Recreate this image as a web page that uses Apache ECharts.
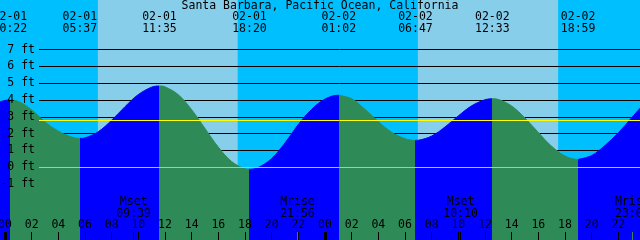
<!DOCTYPE html>
<html>
<head>
<meta charset="utf-8">
<script src="https://cdn.jsdelivr.net/npm/echarts@6/dist/echarts.min.js"></script>
<style>
html,body{margin:0;padding:0;background:#00bfff}
#chart{width:640px;height:240px}
</style>
</head>
<body>
<div id="chart"></div>
<script>
// tide height read hour by hour off the plot (hours after 02-01 00:00, feet)
var hourTimes = [-1,0,1,2,3,4,5,6,7,8,9,10,11,12,13,14,15,16,17,18,19,20,21,22,23,24,
    25,26,27,28,29,30,31,32,33,34,35,36,37,38,39,40,41,42,43,44,45,46,47,48];
var hourFeet = [3.75,3.98,3.92,3.42,2.70,2.15,1.80,1.75,2.12,2.80,3.61,4.33,4.77,4.79,4.32,3.43,2.31,1.20,0.34,-0.09,-0.01,0.52,1.45,2.55,3.45,4.06,
    4.29,4.08,3.45,2.72,2.08,1.70,1.61,1.86,2.40,3.06,3.66,4.02,4.04,3.65,2.93,2.07,1.25,0.67,0.47,0.70,1.30,2.05,2.95,3.85];

// highs and lows written along the top
var extremeDates = ['02-01','02-01','02-01','02-01','02-02','02-02','02-02','02-02'];
var extremeClock = ['00:22','05:37','11:35','18:20','01:02','06:47','12:33','18:59'];
var extremeFeet = [4.00,1.72,4.84,-0.12,4.29,1.60,4.08,0.47];

// daylight
var sunriseDates = ['02-01','02-02'];
var sunriseClock = ['06:58','06:58'];
var sunsetDates = ['02-01','02-02'];
var sunsetClock = ['17:27','17:29'];

// moon events along the bottom
var moonNames = ['Mset','Mrise','Mset','Mrise'];
var moonDates = ['02-01','02-01','02-02','02-02'];
var moonClock = ['09:39','21:56','10:10','23:03'];

// bottom hour ticks, midnights, reference level (yellow line)
var hourTicks = [0,2,4,6,8,10,12,14,16,18,20,22,24,26,28,30,32,34,36,38,40,42,44,46];
var midnightTicks = [0,24];
var refLevel = 2.78;

var NIGHT = '#00bfff', DAY = '#87ceeb', RISE = '#0000ff', FALL = '#2e8b57';
var FONT = 'DejaVu Sans Mono';
var X0 = -0.375, X1 = 47.625;   // visible time range
var Y0 = -4.33, Y1 = 9.96;      // visible height range

function toHours(date, clock) {
    var d = parseInt(date.split('-')[1], 10) - 1;
    var p = clock.split(':');
    return d * 24 + parseInt(p[0], 10) + parseInt(p[1], 10) / 60;
}
function pad(n) { return ('0' + n).slice(-2); }

var extremeHours = extremeDates.map(function (d, i) { return toHours(d, extremeClock[i]); });
var moonHours = moonDates.map(function (d, i) { return toHours(d, moonClock[i]); });

// curve data = hourly readings + the extremes, sorted by time
var curve = hourTimes.map(function (t, i) { return [t, hourFeet[i]]; });
extremeHours.forEach(function (t, i) { curve.push([t, extremeFeet[i]]); });
curve.sort(function (a, b) { return a[0] - b[0]; });

// rising = blue, falling = green
var pieces = [{lt: extremeHours[0], color: extremeFeet[0] > extremeFeet[1] ? RISE : FALL}];
for (var i = 0; i < extremeHours.length; i++) {
    var p = {gte: extremeHours[i]};
    if (i + 1 < extremeHours.length) {
        p.lt = extremeHours[i + 1];
        p.color = extremeFeet[i] > extremeFeet[i + 1] ? FALL : RISE;
    } else {
        p.color = extremeFeet[i] > extremeFeet[i - 1] ? FALL : RISE;
    }
    pieces.push(p);
}

var dayAreas = sunriseDates.map(function (d, i) {
    return [{xAxis: toHours(d, sunriseClock[i])}, {xAxis: toHours(sunsetDates[i], sunsetClock[i])}];
});

function full() {
    return {left: 0, right: 0, top: 0, bottom: 0, containLabel: false, outerBoundsMode: 'none'};
}
function levels() {
    return {left: 39, right: 0, top: 49.7, bottom: 55.9, containLabel: false, outerBoundsMode: 'none'};
}
var txt = {fontFamily: FONT, fontSize: 11.5, color: '#000'};

function hidden(grid) {
    return {gridIndex: grid, type: 'value', min: 0, max: 1, show: false};
}
function timeAxis(grid, extra) {
    var a = {gridIndex: grid, type: 'value', min: X0, max: X1, position: 'bottom',
        axisLine: {show: false, onZero: false}, splitLine: {show: false},
        axisTick: {show: false}, axisLabel: {show: false}};
    return Object.assign(a, extra);
}
function moonAxis(grid, name, color) {
    var vals = moonHours.filter(function (t, i) { return moonNames[i] === name; });
    return timeAxis(grid, {
        z: 9,
        axisTick: {show: true, inside: true, length: 8, customValues: vals, lineStyle: {color: color, width: 1}},
        axisLabel: Object.assign({show: true, inside: true, margin: 20, lineHeight: 12, customValues: vals,
            formatter: function (v) {
                var k = moonHours.findIndex(function (t) { return Math.abs(t - v) < 1e-6; });
                return moonNames[k] + '\n' + moonClock[k];
            }}, txt)
    });
}

var chart = echarts.init(document.getElementById('chart'), null, {renderer: 'canvas'});
chart.setOption({
    animation: false,
    backgroundColor: NIGHT,
    title: {
        text: 'Santa Barbara, Pacific Ocean, California',
        left: 'center', top: 0, padding: 0,
        textStyle: Object.assign({fontWeight: 'normal', lineHeight: 12}, txt)
    },
    grid: [full(), levels(), full(), full(), full(), full(), levels()],
    xAxis: [
        // hour labels
        timeAxis(0, {
            z: 10,
            axisTick: {show: true, inside: true, length: 8, customValues: hourTicks, lineStyle: {color: '#000', width: 1}},
            axisLabel: Object.assign({show: true, inside: true, margin: 9, customValues: hourTicks,
                formatter: function (v) { return pad(v % 24); }}, txt)
        }),
        hidden(1),
        // tide times along the top
        timeAxis(2, {
            position: 'top', z: 10,
            axisLabel: Object.assign({show: true, inside: true, margin: 11, lineHeight: 12, customValues: extremeHours,
                formatter: function (v) {
                    var k = extremeHours.findIndex(function (t) { return Math.abs(t - v) < 1e-6; });
                    return extremeDates[k] + '\n' + extremeClock[k];
                }}, txt)
        }),
        // midnight marks
        timeAxis(3, {
            z: 11,
            axisTick: {show: true, inside: true, length: 8, customValues: midnightTicks, lineStyle: {color: '#000', width: 3}}
        }),
        moonAxis(4, 'Mrise', FALL),
        moonAxis(5, 'Mset', '#000'),
        hidden(6)
    ],
    yAxis: [
        {gridIndex: 0, type: 'value', min: Y0, max: Y1, show: false},
        {gridIndex: 1, type: 'value', min: -1, max: 7, interval: 1, z: 1,
            axisLine: {show: false}, axisTick: {show: false}, axisLabel: {show: false},
            splitLine: {show: true, lineStyle: {color: '#000', width: 1}}},
        {gridIndex: 2, type: 'value', min: 0, max: 1, show: false},
        {gridIndex: 3, type: 'value', min: 0, max: 1, show: false},
        {gridIndex: 4, type: 'value', min: 0, max: 1, show: false},
        {gridIndex: 5, type: 'value', min: 0, max: 1, show: false},
        // foot labels, drawn above the curve
        {gridIndex: 6, type: 'value', min: -1, max: 7, interval: 1, z: 10,
            axisLine: {show: false}, axisTick: {show: false}, splitLine: {show: false},
            axisLabel: Object.assign({margin: 4, formatter: function (v) { return v + ' ft'; }}, txt)}
    ],
    visualMap: {
        type: 'piecewise', show: false, dimension: 0, seriesIndex: 1, pieces: pieces
    },
    series: [
        {
            // day / night bands
            type: 'line', xAxisIndex: 0, yAxisIndex: 0, data: [], z: 0, silent: true,
            markArea: {silent: true, z: 0, itemStyle: {color: DAY}, data: dayAreas}
        },
        {
            type: 'line', xAxisIndex: 0, yAxisIndex: 0, z: 2,
            data: curve, smooth: 0.35, showSymbol: false, silent: true,
            lineStyle: {width: 1},
            areaStyle: {opacity: 1, origin: 'start'}
        },
        {
            // reference lines above the curve
            type: 'line', xAxisIndex: 1, yAxisIndex: 1, data: [], z: 5, silent: true,
            markLine: {
                silent: true, symbol: 'none', z: 5, label: {show: false},
                data: [
                    {yAxis: refLevel, lineStyle: {color: '#ffff00', width: 1, type: 'solid'}},
                    {yAxis: 0, lineStyle: {color: DAY, width: 1, type: 'solid'}}
                ]
            }
        }
    ]
});
</script>
</body>
</html>
